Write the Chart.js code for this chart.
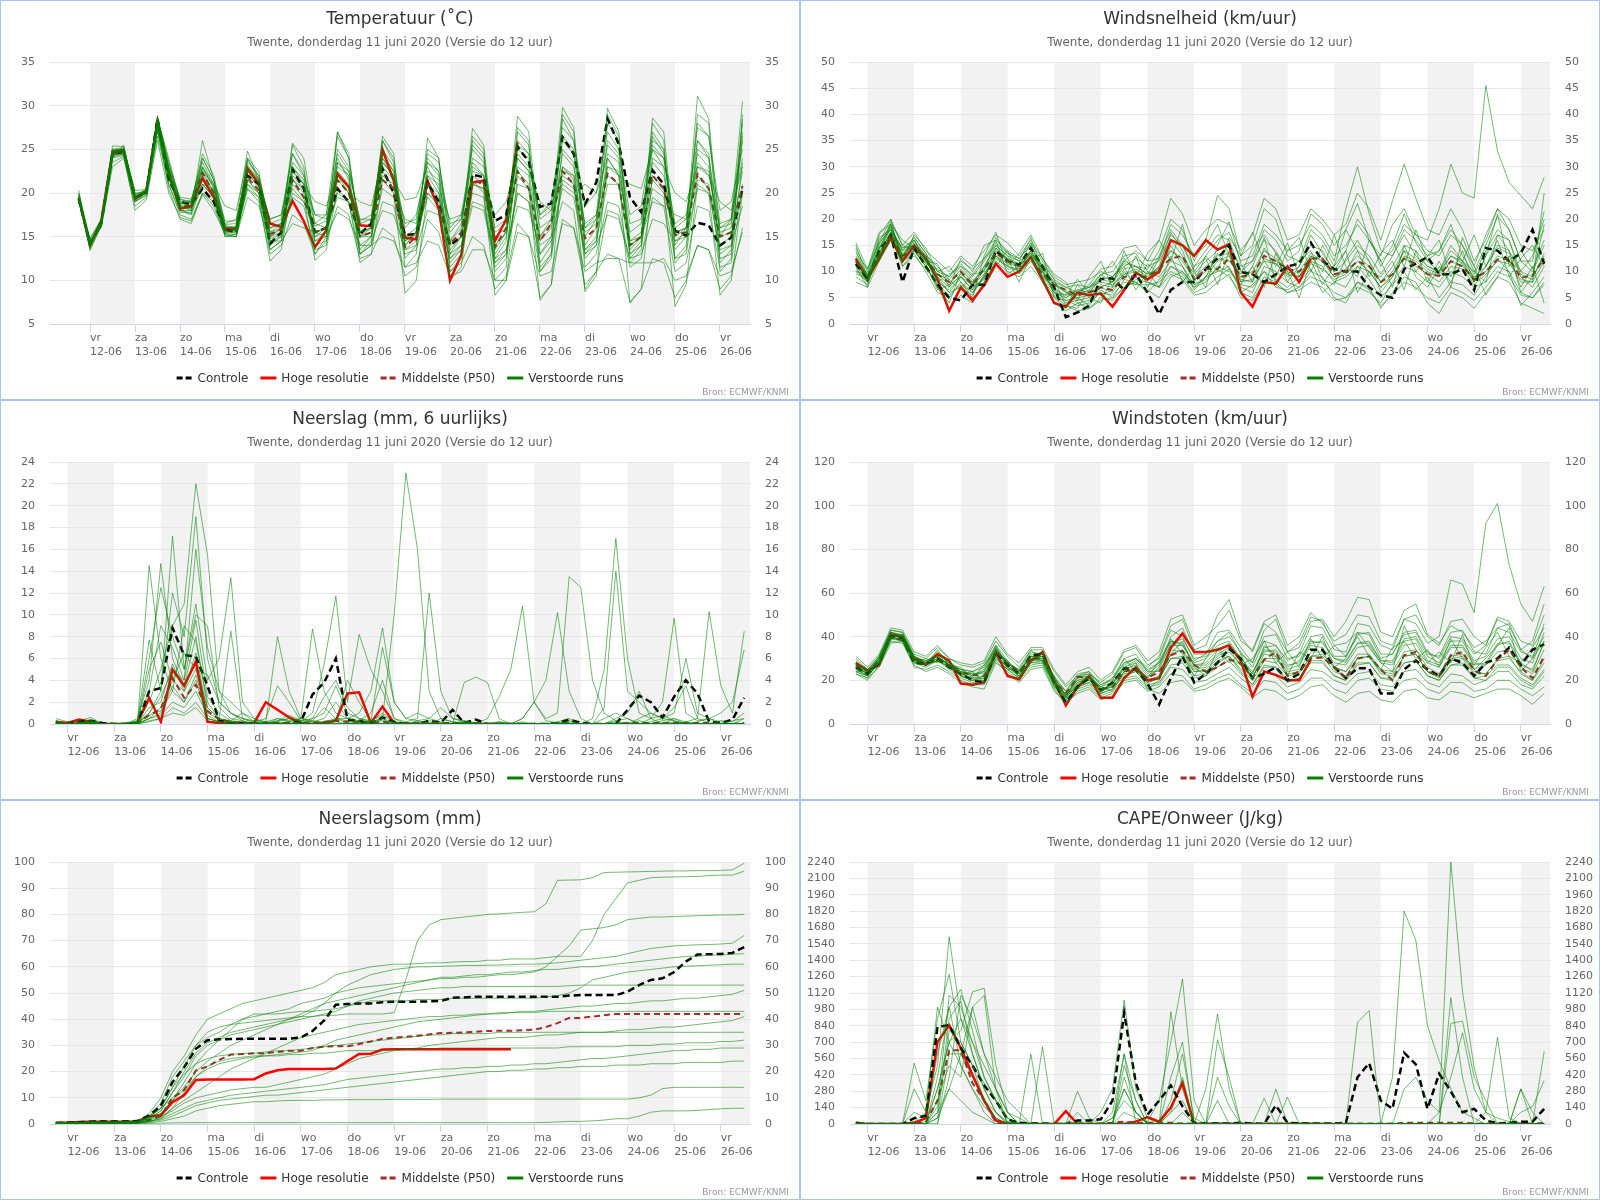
<!DOCTYPE html>
<html>
<head>
<meta charset="utf-8">
<title>Pluim Twente</title>
<script src="https://cdn.jsdelivr.net/npm/chart.js@4.4.0/dist/chart.umd.min.js"></script>
<style>
  body { margin: 0; background: #fff; }
  #grid { display: grid; grid-template-columns: 800px 800px; grid-template-rows: 400px 400px 400px; width: 1600px; height: 1200px; }
  .panel { box-sizing: border-box; width: 800px; height: 400px; border: 1px solid #a5c3f0; }
  .panel canvas { display: block; }
</style>
</head>
<body>
<div id="grid">
  <div class="panel"><canvas id="temp" width="798" height="398"></canvas></div>
  <div class="panel"><canvas id="wind" width="798" height="398"></canvas></div>
  <div class="panel"><canvas id="rain" width="798" height="398"></canvas></div>
  <div class="panel"><canvas id="gust" width="798" height="398"></canvas></div>
  <div class="panel"><canvas id="rainsum" width="798" height="398"></canvas></div>
  <div class="panel"><canvas id="cape" width="798" height="398"></canvas></div>
</div>
<script>
// time axis: days of June 2020, runs start 11-06 18 UTC, every 6 hours
var firstStep = 11.75;
var stepDays = 0.25;
var dayAbbr = ['vr', 'za', 'zo', 'ma', 'di', 'wo', 'do'];
var tickDays = [12, 13, 14, 15, 16, 17, 18, 19, 20, 21, 22, 23, 24, 25, 26];
var subtitleText = 'Twente, donderdag 11 juni 2020 (Versie do 12 uur)';
var sourceText = 'Bron: ECMWF/KNMI';

// ---------- Temperatuur ----------
var tempControl = [19.3,14.2,16.5,24.5,24.7,19.5,20.0,28.5,21.5,19.0, 18.7,20.5,19.0,15.8,15.5,22.0,21.0,14.2,15.5,22.7, 20.5,15.5,16.0,20.5,19.0,15.3,16.5,22.8,20.0,15.2, 15.3,21.2,19.0,14.0,15.0,22.1,21.8,16.8,17.5,25.3, 23.6,18.4,18.8,26.4,24.5,18.7,21.2,28.5,25.6,19.5, 17.8,22.6,21.0,15.7,15.1,16.6,16.3,14.0,14.9,20.5];
var tempHres = [19.4,14.0,16.8,24.7,24.9,19.3,20.2,28.2,22.2,18.2, 18.5,21.7,19.5,15.9,15.9,22.8,21.1,16.5,16.1,19.1, 16.8,13.8,15.7,22.2,20.7,16.3,16.2,25.0,21.4,14.9, 14.7,21.4,18.2,10.0,12.9,21.2,21.4,14.5,17.0,25.8];
var tempP50 = [19.4,14.2,16.6,24.5,24.8,19.4,20.1,27.8,22.5,18.5, 18.5,22.3,20.0,15.8,15.8,21.8,20.3,15.3,15.8,21.5, 19.5,15.5,16.0,21.5,20.0,15.0,15.5,21.5,20.5,13.8, 15.0,21.0,18.5,14.2,15.5,21.5,21.0,13.8,16.0,22.5, 20.5,14.5,16.5,22.5,21.0,14.8,16.0,22.2,21.0,14.0, 15.0,22.0,20.5,15.2,15.5,22.2,20.5,15.0,15.5,20.8];
var tempMembers = [
  [19.8,13.6,16.2,25.4,25.3,19.8,20.3,28.8,23.0, 19.2,19.0,22.5,20.8, 16.0,16.2,23.5,22.0, 16.5,17.0,24.5,22.5, 16.2,16.8,23.5,22.5, 16.8,17.5,25.0,23.0, 16.0,17.5,23.5,22.0, 15.5,17.0,24.0,23.0, 16.0,17.0,26.0,24.5, 17.5,19.0,27.5,26.0, 18.5,20.0,27.0,25.0, 17.5,18.5,26.5,24.5, 16.0,17.0,27.5,26.5, 18.0,19.0,25.0],
  [19.0,14.4,16.0,23.0,24.0,18.5,19.5,26.5,21.0, 17.5,17.0,20.0,18.5, 15.2,15.0,20.5,19.0, 13.0,14.0,17.5,16.5, 13.0,14.5,18.5,17.5, 12.5,13.0,16.0,15.0, 10.5,11.5,17.0,15.5, 11.0,12.0,15.0,14.0, 9.0,10.5,16.5,15.0, 8.0,9.5,17.0,16.0, 9.5,11.0,13.0,12.5, 7.5,9.0,12.5,12.0, 8.0,10.0,14.0,13.5, 9.0,10.5,16.0],
  [20.3,14.0,16.6,24.0,25.5,19.0,20.0,27.5,22.5, 18.0,18.0,26.0,21.5, 16.5,17.0,24.8,21.5, 15.0,15.5,25.5,23.0, 14.5,15.0,27.0,24.0, 15.5,16.0,26.5,24.5, 12.5,14.0,26.3,24.0, 13.0,15.0,27.4,25.5, 13.5,15.5,28.8,27.0, 15.0,17.0,29.8,27.5, 14.0,16.0,29.7,27.0, 13.0,14.5,28.6,27.0, 14.0,16.0,31.1,28.5, 15.0,17.0,30.5],
  [19.5,13.4,16.3,24.3,24.5,19.0,19.8,27.0,21.5, 18.5,18.0,21.0,19.5, 15.0,15.3,21.0,19.5, 12.2,13.5,21.0,19.5, 12.3,13.5,20.5,19.0, 12.0,13.0,21.5,20.0, 8.5,10.0,20.0,18.5, 10.0,11.5,21.5,20.0, 8.3,10.0,22.0,20.5, 7.7,9.5,23.0,21.5, 8.7,10.5,24.0,22.0, 7.4,9.0,22.0,20.5, 7.0,9.5,21.0,20.0, 8.3,10.0,20.0],
  [19.6,14.8,17.0,25.0,25.0,20.3,20.4,28.0,23.0, 19.5,19.3,23.5,21.0, 18.5,18.0,24.0,21.5, 17.0,17.5,23.0,21.0, 19.0,18.5,22.0,20.0, 19.0,18.5,24.0,21.5, 19.2,19.5,23.0,20.5, 17.0,17.5,22.0,21.0, 17.5,19.0,24.0,22.5, 19.0,18.0,21.0,20.0, 21.0,20.0,24.0,22.0, 21.0,20.5,25.0,23.0, 20.0,19.0,23.0,22.0, 19.0,18.0,23.0],
  [19.2,14.1,16.8,24.8,24.6,19.3,20.2,28.2,22.0, 18.8,18.6,21.5,19.8, 15.6,15.5,22.5,20.5, 15.5,16.0,22.0,20.5, 15.0,16.0,24.0,21.5, 13.5,15.0,24.5,22.5, 14.0,15.5,19.5,18.0, 12.5,14.0,20.0,19.5, 11.0,12.5,21.0,20.5, 12.0,14.0,25.0,23.5, 11.5,13.0,19.0,18.5, 12.0,13.5,24.0,23.0, 12.5,14.0,26.0,24.5, 13.0,14.0,26.5],
  [19.4,14.5,16.4,24.0,24.3,19.6,19.9,27.4,20.5, 17.0,16.5,20.0,19.0, 15.4,15.2,21.0,20.0, 16.0,16.5,22.5,21.0, 17.5,17.0,22.0,20.5, 14.0,15.0,23.5,22.0, 14.5,15.5,22.5,21.5, 13.5,15.0,22.5,22.0, 14.0,15.5,23.0,22.0, 11.0,13.0,22.5,22.0, 13.0,14.5,21.0,21.0, 13.0,14.0,23.5,22.0, 15.5,16.0,23.5,22.0, 16.0,16.5,27.0],
  [19.0,14.6,16.1,23.5,24.2,18.0,19.2,26.0,20.0, 17.2,16.8,19.8,18.0, 15.3,15.0,19.5,18.5, 14.5,14.5,16.5,16.0, 15.5,15.0,17.8,17.0, 14.0,14.0,15.0,14.5, 11.5,12.0,14.5,14.0, 10.5,11.0,13.5,13.5, 10.0,10.0,15.5,15.0, 10.5,11.0,16.5,16.0, 11.0,12.0,12.5,12.5, 12.0,12.0,12.0,12.5, 10.0,10.5,14.0,13.5, 10.5,11.0,15.5],
  [19.7,13.8,16.7,24.9,25.0,19.5,20.5,28.5,24.0, 19.0,18.8,24.5,22.0, 16.3,16.0,24.0,22.5, 15.5,16.5,25.7,24.0, 16.5,17.5,27.0,24.5, 15.0,16.0,26.0,24.0, 14.0,15.5,25.0,24.0, 14.5,16.5,26.0,24.5, 12.5,14.5,27.5,26.0, 11.5,13.0,29.0,27.0, 13.5,15.0,28.0,26.0, 12.5,14.0,27.0,25.0, 13.5,15.0,29.0,28.0, 12.0,13.5,28.5],
  [19.3,14.3,16.6,24.6,24.8,19.6,20.1,27.8,22.5, 18.3,18.2,22.0,20.2, 15.8,15.7,22.5,21.0, 14.0,15.0,22.5,21.0, 14.5,15.5,21.5,20.0, 15.5,16.0,22.0,21.0, 14.5,15.5,21.0,19.5, 14.0,15.0,21.0,20.5, 14.0,15.5,22.5,21.0, 15.0,16.5,23.0,22.0, 15.5,16.5,22.0,21.0, 14.0,15.0,21.5,20.0, 15.5,16.0,22.0,20.5, 15.0,15.5,20.0],
  [19.5,14.2,16.4,24.2,25.0,19.4,20.0,28.0,22.0, 18.0,17.5,21.0,20.5, 15.5,16.0,21.5,20.0, 13.5,14.5,20.0,19.0, 15.5,16.0,19.5,19.0, 13.0,14.0,19.0,18.5, 13.0,13.5,18.0,17.5, 12.5,13.5,18.5,18.0, 12.0,13.0,20.0,19.0, 13.0,14.5,19.0,18.0, 9.0,11.0,18.0,17.5, 11.5,12.5,19.5,18.5, 11.0,12.0,18.5,18.0, 11.5,12.0,21.0],
  [19.9,14.0,17.0,25.0,25.2,20.0,20.0,28.4,23.5, 18.7,19.2,23.0,21.0, 16.4,16.5,23.0,21.5, 15.0,16.0,23.5,22.0, 13.0,15.0,25.0,23.0, 16.5,17.0,23.0,21.5, 15.0,16.0,24.5,23.5, 16.0,17.5,25.0,23.5, 13.0,15.0,25.0,24.0, 16.0,17.0,26.0,24.5, 15.0,17.0,25.5,24.0, 13.5,15.0,25.0,24.0, 16.5,17.5,26.0,24.0, 16.0,17.0,24.0],
  [19.6,14.3,16.5,24.6,24.9,19.7,20.3,28.6,22.8, 18.6,18.3,23.0,20.5, 16.2,15.8,23.8,22.0, 16.0,16.5,20.5,19.0, 16.5,16.0,26.5,24.0, 15.5,16.5,22.5,20.5, 17.0,16.5,22.0,20.0, 14.5,16.0,25.5,24.0, 15.5,16.5,24.5,23.0, 17.5,18.5,22.0,21.0, 12.5,14.0,23.0,22.5, 14.5,15.0,19.0,18.5, 17.5,17.0,24.5,23.0, 14.0,15.0,22.5],
  [19.1,13.9,16.9,24.4,24.4,19.2,20.0,27.2,21.0, 17.8,17.8,24.0,21.5, 15.0,15.0,22.0,21.0, 13.5,14.5,23.0,21.5, 14.0,14.5,23.5,22.0, 13.0,14.0,26.0,23.5, 11.5,13.0,23.5,22.5, 11.0,12.5,26.5,25.0, 10.0,11.5,27.0,25.5, 13.0,15.0,28.5,26.0, 16.0,17.5,29.0,26.5, 14.5,15.5,28.0,26.0, 12.0,13.5,25.0,24.0, 11.0,12.5,29.0],
  [19.4,14.0,16.3,24.5,24.7,19.5,20.1,28.0,22.0, 18.4,18.4,21.0,19.5, 15.7,15.6,20.5,19.5, 14.5,15.0,21.5,20.0, 15.0,15.5,20.0,19.0, 15.0,15.0,20.5,19.5, 13.5,14.5,20.0,19.0, 13.0,14.0,19.0,18.5, 12.5,13.5,18.5,18.0, 14.0,15.0,20.5,19.5, 13.0,14.0,17.5,17.0, 12.5,13.0,17.0,16.5, 14.5,15.0,20.5,20.0, 13.5,14.0,18.5],
  [20.0,14.7,16.9,24.8,25.1,19.9,20.3,28.6,23.5, 19.3,19.0,24.0,21.5, 16.8,16.8,22.8,21.0, 17.0,17.5,24.5,22.0, 17.5,17.5,24.5,22.5, 17.0,17.0,23.5,22.0, 16.5,17.0,24.0,22.5, 16.5,17.0,23.5,22.0, 15.0,16.0,25.5,24.5, 17.0,18.0,26.5,25.0, 16.0,17.0,26.0,24.5, 16.5,17.0,25.5,24.0, 15.0,16.0,28.0,26.5, 16.5,17.0,28.0],
  [19.2,14.2,16.5,24.1,24.5,19.0,19.7,27.6,21.8, 18.1,17.6,22.5,20.0, 15.5,15.4,21.5,20.0, 14.8,15.2,19.5,18.5, 13.5,14.0,22.5,21.0, 13.0,14.5,18.0,17.5, 13.5,14.0,21.0,20.0, 11.5,13.0,23.0,22.0, 12.0,13.5,20.0,19.0, 11.0,12.5,21.5,20.5, 13.5,14.5,24.5,23.5, 14.0,15.0,20.5,19.5, 12.5,13.0,21.5,21.0, 12.5,13.0,23.5],
  [19.5,14.4,16.6,24.7,25.0,19.6,20.2,28.3,22.8, 18.9,18.9,22.8,20.8, 16.1,16.0,23.2,21.5, 15.0,16.0,21.5,20.5, 15.5,16.0,23.0,22.0, 15.0,15.5,24.0,22.5, 14.5,15.5,22.0,21.0, 12.0,13.5,21.0,20.5, 11.5,13.0,24.0,22.5, 14.5,16.0,24.5,23.0, 16.5,17.5,23.0,22.0, 15.5,16.5,26.0,25.0, 14.5,15.5,23.0,22.5, 15.5,16.0,26.0]
];

// ---------- Windsnelheid ----------
var windControl = [11.5,8.5,14.0,17.0,8.0,14.5,11.0,7.5,5.0,4.5, 7.5,7.5,14.0,12.0,11.3,14.5,11.0,7.0,1.3,2.2, 3.5,8.6,8.7,6.5,9.5,6.0,1.9,6.5,8.0,8.0, 10.5,12.5,15.0,9.9,9.5,8.0,9.5,11.0,11.5,15.5, 12.0,10.5,10.0,10.0,7.0,5.5,5.0,10.5,11.5,12.8, 9.5,9.5,10.5,6.5,14.5,14.0,12.0,13.5,18.0,11.5];
var windHres = [12.5,8.5,12.5,16.5,12.0,15.0,12.5,8.5,2.5,7.0, 4.5,7.5,11.5,9.0,10.0,12.8,8.5,4.0,3.3,6.0, 5.5,5.8,3.3,6.5,9.8,8.5,10.0,16.0,15.0,13.0, 16.0,14.2,15.2,6.0,3.3,8.0,7.7,11.0,8.0,12.5];
var windP50 = [12.0,9.0,13.0,17.0,13.0,14.5,12.5,9.5,8.0,10.0, 7.5,10.5,13.5,12.0,11.0,12.5,9.5,7.5,6.5,5.5, 6.0,7.0,6.5,9.0,9.0,9.0,10.5,12.5,13.0,8.5, 10.5,10.5,12.5,9.0,9.5,13.0,12.0,10.5,10.0,12.5, 12.5,9.5,10.0,12.0,11.0,8.0,9.5,12.5,11.5,9.5, 9.2,12.0,11.0,8.5,10.0,12.3,12.5,8.8,9.3,12.5];
var windMembers = [
  [9.0,7.5,15.0,19.0,13.0,16.0,12.0,9.0,6.0,9.0, 6.5,11.0,15.0,13.0,10.0,14.0,10.0,6.0,5.0,6.5, 7.0,9.5,8.0,12.0,11.0,9.5,13.0,18.0,15.0,11.0, 14.0,17.0,16.0,10.0,12.0,18.0,16.0,12.0,14.0,21.0, 19.0,15.0,18.0,23.0,16.0,13.0,19.0,22.0,17.0,16.0, 22.0,30.5,25.0,24.0,45.5,33.0,27.0,24.5,22.0,28.0],
  [13.0,9.5,16.0,18.5,14.0,16.5,13.5,10.0,9.0,11.5, 9.0,12.0,15.5,13.5,12.5,15.0,11.0,8.0,6.0,5.0, 5.5,7.5,7.0,10.5,11.0,10.5,14.0,20.0,18.0,12.0, 16.0,24.5,22.0,13.0,15.0,22.0,20.0,13.0,12.0,18.0, 16.0,12.0,22.0,30.0,21.0,14.0,13.0,17.0,13.0,11.0, 10.0,14.0,12.0,9.0,11.0,15.0,14.0,10.0,9.0,13.0],
  [10.0,8.0,14.0,19.5,15.0,14.0,11.0,7.0,3.0,5.5, 4.0,8.0,12.0,10.0,9.0,11.0,8.0,4.0,2.5,4.0, 3.0,5.0,4.5,7.0,8.0,6.5,5.0,9.0,10.0,7.0, 9.0,10.0,11.0,6.0,5.0,9.0,8.0,6.0,7.0,10.0, 9.0,5.0,4.0,8.0,7.0,3.0,6.0,9.0,8.0,4.0, 2.0,6.0,5.0,3.0,6.0,9.0,8.0,4.0,3.0,2.0],
  [14.5,10.0,17.0,20.0,15.0,17.5,14.0,12.0,10.0,13.0, 11.0,14.0,17.0,15.5,13.0,16.0,12.5,9.0,7.5,8.0, 8.5,10.0,9.0,12.0,14.0,12.0,16.0,24.0,21.0,15.0, 18.0,20.0,19.0,14.0,17.0,24.0,22.0,16.0,17.0,22.0, 20.0,17.0,19.0,25.0,22.0,16.0,23.5,30.5,24.0,18.0, 17.0,22.0,18.0,12.0,16.0,22.0,20.0,15.0,14.0,18.0],
  [8.0,7.0,12.0,16.0,12.0,13.5,10.0,6.0,5.0,8.0, 6.0,9.0,13.0,11.5,11.0,13.5,10.0,6.5,4.5,3.5, 4.0,6.0,5.5,8.0,7.5,7.5,8.0,10.0,9.0,6.0, 7.0,9.0,10.5,7.0,6.0,11.0,10.0,8.0,7.0,9.0, 8.0,6.0,5.0,7.0,6.0,4.0,8.0,11.0,10.0,8.0, 7.0,10.0,9.0,7.0,8.0,11.0,10.0,6.0,5.0,8.0],
  [12.0,9.0,13.5,17.5,13.5,15.0,12.5,9.5,7.5,10.5, 8.0,11.0,14.5,12.0,11.5,13.0,9.0,7.0,5.0,6.5, 6.0,8.5,8.0,11.0,12.5,11.0,12.0,16.0,13.0,9.5, 12.0,14.0,15.0,11.0,12.0,16.0,14.0,10.0,9.0,13.0, 12.0,9.0,10.0,14.0,12.0,8.0,11.0,15.0,14.0,11.0, 10.0,13.0,12.0,8.0,13.0,17.0,16.0,9.0,7.0,11.0],
  [11.0,8.5,13.0,17.0,12.5,15.5,13.0,8.0,6.5,9.0, 7.5,9.5,13.0,11.0,10.5,14.0,11.0,7.5,6.0,5.5, 6.5,9.5,10.0,13.0,13.5,10.0,9.0,12.0,11.0,7.5, 9.0,12.0,13.0,8.0,8.5,12.0,11.5,9.5,11.0,15.0, 14.0,10.0,12.0,15.0,13.0,9.5,13.0,18.0,16.0,13.0, 14.0,18.0,15.0,11.0,17.0,22.0,18.0,12.0,12.0,21.5],
  [15.0,9.0,14.5,18.0,14.0,15.0,11.5,10.5,9.0,12.0, 10.5,12.5,15.0,13.0,12.0,13.5,10.5,8.0,7.0,7.5, 7.0,8.0,7.5,9.5,10.0,8.0,7.0,11.0,9.5,7.0, 8.0,11.0,10.0,7.5,7.0,10.0,8.5,7.0,9.0,12.0, 11.0,8.0,9.0,11.0,10.0,7.0,9.0,13.0,12.0,10.0, 9.0,12.0,11.0,9.0,10.0,13.0,12.0,8.0,8.0,25.0],
  [10.5,8.0,13.0,16.5,11.0,14.0,12.0,8.5,6.0,7.0, 5.5,9.5,13.5,12.5,11.5,14.0,10.5,6.0,4.0,4.5, 5.0,7.0,6.0,9.5,10.5,9.0,11.0,14.0,12.5,9.0, 11.0,13.0,13.5,8.5,8.0,12.5,11.5,9.5,9.0,11.5, 10.5,8.5,9.5,12.0,10.0,7.0,9.5,12.5,11.0,9.5, 8.0,11.0,10.5,7.5,9.5,12.0,11.5,8.5,8.0,12.0],
  [13.5,10.5,15.5,18.0,14.5,16.0,13.0,11.0,8.5,11.0, 9.5,12.5,16.0,14.0,12.5,15.5,12.0,8.5,7.0,6.0, 7.5,10.5,11.0,14.5,15.0,12.0,12.5,17.0,15.0,10.0, 13.0,16.0,17.5,12.0,13.0,19.0,17.0,14.0,15.0,19.0, 17.0,13.0,15.0,19.0,16.0,12.0,14.0,19.0,17.0,14.0, 13.0,17.0,15.0,10.0,15.0,20.5,18.0,12.0,10.0,15.0],
  [11.5,9.0,12.5,16.0,12.0,14.0,11.0,7.5,5.5,7.5, 6.0,9.0,12.5,11.0,10.0,12.0,8.5,5.5,3.5,2.5, 3.0,4.5,5.0,7.0,8.5,8.0,7.0,9.5,8.5,5.5, 6.0,8.0,9.5,5.0,4.5,8.0,7.5,6.0,6.5,8.0, 7.0,4.5,5.0,8.0,6.5,3.5,5.5,8.0,7.0,5.0, 4.0,7.0,6.0,4.5,7.0,10.0,9.0,5.5,5.0,7.5],
  [12.5,9.5,14.5,18.5,13.0,16.5,13.5,9.0,7.0,9.5, 8.0,10.5,14.0,12.5,11.0,13.5,9.5,6.5,5.5,6.0, 7.0,8.5,9.0,11.5,11.0,9.5,10.5,14.0,12.0,8.5, 10.0,12.5,12.0,9.0,10.0,14.0,12.5,9.0,10.0,13.5, 12.0,9.0,10.5,13.0,11.0,8.0,10.0,14.0,12.5,10.5, 9.5,13.0,11.5,8.0,11.0,14.5,13.5,9.5,8.5,13.5],
  [14.0,8.5,13.0,19.0,12.0,17.0,14.5,10.0,11.0,8.0, 5.0,13.0,17.5,11.0,13.5,17.0,12.5,9.5,8.0,4.5, 9.0,12.0,7.0,14.0,9.0,13.5,16.0,12.0,19.0,10.0, 7.0,15.0,19.5,11.5,8.0,14.5,11.0,15.5,9.0,13.0, 10.0,17.0,11.0,9.0,16.0,12.0,7.0,15.0,10.0,13.0, 16.0,9.0,14.0,8.0,13.0,21.0,11.0,14.0,10.5,16.0],
  [11.0,7.0,15.5,20.0,11.0,13.0,10.5,8.0,9.5,11.0, 8.5,7.0,11.0,14.0,9.5,12.0,13.5,5.0,3.0,7.5, 5.0,4.0,9.0,11.0,6.5,10.0,7.0,13.0,8.0,11.0, 12.5,7.5,14.0,8.0,11.0,7.0,13.5,10.0,5.0,12.0, 7.5,11.0,14.0,6.0,10.0,9.0,12.0,6.5,14.0,8.0, 12.0,7.0,16.5,11.0,5.5,9.0,13.0,7.0,11.0,4.0],
  [15.5,10.5,17.5,19.0,16.0,14.5,12.0,11.5,7.0,12.5, 10.0,15.0,16.0,9.5,11.0,15.5,9.0,6.0,5.5,8.5, 6.0,9.0,12.0,8.5,13.0,7.0,11.0,17.5,14.0,8.0, 13.0,10.0,16.5,13.0,17.5,12.0,9.0,14.0,16.5,10.0, 15.0,11.0,18.0,14.0,9.0,13.5,16.0,11.0,18.0,12.0, 10.0,15.0,12.0,17.0,11.0,16.0,9.0,12.5,15.0,11.0],
  [9.5,9.0,13.5,17.5,14.5,15.0,13.0,7.0,4.0,10.0, 7.0,8.5,14.5,12.5,8.0,13.0,11.5,8.5,3.5,3.0, 6.5,5.5,6.5,10.0,7.5,11.5,9.5,15.0,11.0,6.5, 9.0,13.5,10.5,7.5,11.0,16.5,8.0,10.5,12.0,14.0, 8.5,7.5,12.5,16.0,12.0,6.0,9.0,14.0,9.0,7.0, 11.0,8.0,12.0,10.0,8.0,17.0,14.0,6.0,9.0,19.0],
  [12.0,8.0,16.5,18.0,12.5,16.0,12.0,9.5,8.5,6.5, 9.5,10.0,16.5,13.5,12.0,16.5,10.0,7.5,6.5,4.0, 4.5,7.0,8.0,12.5,10.0,8.5,12.5,19.0,17.0,13.0, 15.0,19.0,13.0,9.5,14.5,17.0,13.5,8.0,11.0,17.0, 13.5,10.0,14.0,20.0,17.0,11.0,15.0,21.0,15.5,12.0, 14.0,19.0,13.0,9.5,14.0,18.0,16.0,10.0,13.0,20.0],
  [10.0,9.5,12.0,17.0,13.0,14.0,11.5,6.5,7.5,9.0, 6.5,9.0,13.0,10.5,10.5,12.5,8.0,5.0,4.5,5.0, 3.5,6.5,5.0,8.5,8.0,6.0,8.5,11.0,10.0,7.5, 8.5,10.5,9.0,6.0,7.5,10.0,7.0,6.5,8.0,10.5, 6.0,8.0,7.0,11.0,8.5,5.0,7.5,10.0,6.5,9.0, 5.0,8.0,7.5,5.5,9.0,12.5,10.0,3.5,6.0,9.0]
];

// ---------- Neerslag (6 uurlijks) ----------
var rainControl = [0.1,0,0.2,0.3,0.1,0,0,0.1,3.0,3.3, 8.8,6.3,6.2,3.5,0.3,0.1,0.1,0,0,0, 0.1,0.2,2.7,3.8,6.0,0.4,0.3,0,0.6,0.2, 0,0,0.3,0.1,1.3,0.1,0.4,0,0,0, 0,0,0,0.1,0.4,0.1,0,0,0,1.3, 2.6,2.0,0.6,2.5,4.0,2.8,0.2,0.1,0.4,2.4];
var rainHres = [0.2,0.1,0.4,0.2,0,0,0,0.1,2.4,0.2, 5.0,3.5,5.7,0.2,0.1,0,0,0.1,2.0,1.3, 0.6,0.1,0,0.1,0.3,2.8,2.9,0.1,1.6,0.1, 0,0,0,0,0,0,0,0,0,0];
var rainP50 = [0.1,0,0.1,0.1,0,0,0,0.1,0.8,1.4, 4.2,2.4,3.6,1.2,0.4,0.2,0.1,0.1,0.1,0.1, 0.1,0.1,0.1,0.2,0.3,0.2,0.2,0.1,0.2,0.1, 0.1,0.1,0.1,0.1,0.1,0.1,0.1,0,0,0, 0,0,0,0.1,0.1,0,0,0,0,0.1, 0.1,0.1,0.1,0.1,0.1,0.1,0.1,0,0,0.1];
var rainMembers = [
  [0.2,0,0.1,0.3,0,0,0,0.2,2.0,5.0, 9.0,11.0,22.0,15.5,3.0,1.0,0.5,0.1,0,0.2, 0.5,0.1,0.3,1.5,0.5,0.1,0,0.2,0.4,0, 0,0.2,0.1,0,0,0.3,0.1,0,0,0, 0.2,0,0,0.1,0.3,0,0,0,0.5,1.0, 3.0,0.5,0,0.2,0.1,0,0,0.3,0.2,1.0],
  [0.1,0,0.2,0.1,0,0,0.1,0.3,7.7,3.0, 17.2,5.0,11.0,4.0,6.0,13.4,2.0,0.5,0.2,0.1, 0.2,0.5,0.2,0.1,0.3,4.0,2.0,0.3,1.0,0.2, 0.1,0,0.3,0.1,0,0,0,0,0.2,0, 0.5,2.0,0.3,0.1,0,0,0,0,0.2,0, 0.3,0,0.1,0,0.2,0.5,0.1,0,0.3,0.5],
  [0.5,0.2,0.3,0.6,0,0,0,0.1,14.5,6.0, 3.0,9.0,7.5,2.0,0.5,0.3,1.0,0.2,0.5,3.5, 2.0,0.3,0.2,0.5,2.0,0.5,0.2,0.1,0.3,0, 0,0,0,0.5,0.2,0,0,0,0,0, 0,0,0,0,0,0,0,0,0,0, 0,0.2,0.5,0.3,0,0,0,0,0,0],
  [0,0,0.1,0.2,0,0,0,0.5,4.0,14.7, 6.0,3.5,8.0,1.5,0.5,8.5,0.5,0.3,0.2,8.0, 3.0,0.5,0.3,0.2,0.5,0.3,0.1,0.2,0.5,0.1, 0,0,0,0,0,0.2,0,0,0,0, 0,0,0,0,0.2,0,0,0,0,0, 0,0,0,0,0,0.2,0.5,0,0,0],
  [0.1,0,0,0.1,0,0,0,0.1,0.5,1.0, 3.5,2.0,4.0,0.5,0.2,0.1,0,0,0.2,0.5, 0.3,0.5,8.7,3.0,1.0,0.5,0.3,0.2,0.5,10.0, 23.0,16.0,3.0,0.5,0.2,0.1,0,0,0,0, 0,0,0,0,0,0,0,0,0,0, 0,0,0,0,0,0,0,0,0,0],
  [0.2,0,0,0.2,0,0,0,0.1,1.0,2.5, 5.0,4.0,9.5,2.5,1.0,0.3,0.2,0,0,0.3, 0.5,0.2,1.0,5.5,11.7,2.0,8.2,5.0,3.0,0.5, 0.2,0.5,12.0,3.0,0.5,0.3,0,0,0.2,0, 0,0,0,0,0,0,0,0,0,0, 0,0,0,0.5,0,0,0,0,0,0],
  [0,0,0,0,0,0,0,0,0.5,0.8, 2.0,1.5,3.0,0.8,0.2,0,0,0,0,0, 0,0,0,0,0,0,0,0,0,0, 0,0,0,0,0,0,0,0.5,2.5,5.0, 10.8,2.0,0.5,1.0,13.5,12.5,4.0,1.0,0.3,0, 0,0,0,0,0,0,0,0,0,0],
  [0,0,0,0,0,0,0,0,0.2,0.5, 1.0,0.8,1.5,0.3,0,0,0,0,0,0, 0,0,0,0,0,0,0,0,0,0, 0,0,0,0,0,0,0,0,0,0, 0,0,0,0,0,0,0.5,5.0,17.0,6.0, 1.0,0.5,2.0,9.7,1.0,0.3,0.5,0.2,0,0.5],
  [0.3,0,0,0.1,0,0,0,0,1.5,2.0, 5.5,3.0,6.5,1.0,0.5,0.2,0,0,0,0, 0,0,0,0,0,0,0,0,0,0, 0,0,0,0,0,0,0,0,0,0, 0,0,0,0,0,0,0,1.5,14.0,3.0, 2.0,1.0,0.5,1.5,3.5,0.5,10.3,3.5,1.0,8.5],
  [0,0,0,0.1,0,0,0,0.1,0.8,1.2, 3.0,2.0,4.5,0.5,0.2,0,0,0,0,0, 0,0,0,0,0.5,0.5,1.0,3.0,8.8,2.0, 0.5,0.3,0,0,0,0,0,0,0,0, 0.5,2.0,4.0,10.2,3.0,0.5,0,0,0,0, 0,0,0,0,0,0,0,0,0,0],
  [0.1,0,0,0.3,0,0,0,0.2,5.0,7.5, 4.0,6.5,5.0,4.5,2.0,1.0,0.5,0.2,0,0.5, 0.2,0.1,0.5,2.5,4.0,1.5,0.5,0.2,7.0,2.0, 0.5,1.0,0.5,0.2,0,0,0,0,0,0, 0,0,0,0.2,0.5,0,0,0,0.3,0.5, 0,0,0.3,0.5,0.2,0,0,0,0,0],
  [0,0,0,0,0,0,0,0,0.3,0.5, 1.5,1.0,2.0,0.5,0.2,0.1,0,0,0,0, 0,0,0,0,0.2,0,0,0,0,0, 0,0,0,0,0,3.8,4.3,3.8,0.5,0, 0,0,0,0,0,0,0,0,0,0, 0,0,0,0,0,0,0,0,0,0],
  [0.2,0,0,0.4,0,0,0,0.3,3.0,9.0, 7.0,4.0,16.0,7.0,3.0,2.0,1.0,0.5,0,0.3, 0.8,0.3,0.5,1.0,3.5,1.0,0.5,0.3,0.8,0.2, 0,0.3,0.5,1.5,0.5,0.2,0,0,0,0, 0,0,0,0,0,0,0,0.5,1.0,0.5, 0,0.5,0.8,0.3,0,0,0,0,0,0],
  [0,0,0,0.1,0,0,0,0.1,1.0,3.0, 12.0,8.0,19.0,6.0,2.0,1.0,0.3,0,0,0, 0,0,0,0,0,0,0.3,1.0,4.0,0.5, 0,0,0,0,0,0,0,0,0,0, 0,0,0,0,0,0,0,0,0,0, 0,0,0,0,0,0,0,0,0,0],
  [0.3,0,0,0.2,0,0,0,0.2,6.0,12.5, 8.0,5.0,10.0,9.0,1.5,0.5,0.3,0,0,0, 0,0,0,0,0,0,0,0,0,0, 0,0,0,0,0,0,0,0,0,0, 0,0,0,0,0,0,0,0,0,0, 0,0,0,0,0,0,0,0,0,0],
  [0,0,0,0,0,0,0,0,0.5,1.5, 4.0,3.0,5.0,1.5,0.5,0.2,0,0,0,0, 0,0,0,0,0,0,0,0,0,0, 0,0,0,0,0,0,0,0,0,0, 0,0,0,0,0,0,0,0,0,0, 0.5,1.0,0.5,1.0,6.0,1.0,0.5,1.0,2.0,6.8]
];

// ---------- Windstoten ----------
var gustControl = [26,23,28,40,39,28,27.5,30,26,23, 20,19,33,27,23,31.5,32,19,10,17, 21,15.5,19,25.5,25,18.5,9,21,31,19, 23,28,34.5,30,21,23,26,20,23,34, 34,26,21,25.5,25.5,14,14,25,29,25, 22,30,28,22,28,30,35,27,34,36.5];
var gustHres = [28,24.5,27,41,40,30,27,32,29,18.5, 18,19,33,22,20.5,29,33,20,8.5,17, 22,12,12,21,26,20,21,35,41.5,33, 33,34,36,29,12.5,24,22.5,20,20,29.5];
var gustP50 = [27,24.5,28.5,39.5,38.5,30,28.5,29,27,23.5, 22.5,22,33,28,24,30,30,20,14,21.5, 21.5,16,17,24,25,21,24,31.5,33.5,27, 24,26,29.5,28,21,29.5,33,22,24,30, 30.5,26,21,30,31,25,20,31.5,33,24, 22,31.5,33,24.5,22,29.5,34,26,21,31];
var gustMembers = [
  [25,22,30,42,41,31,28,33,29,24, 22,25,36,29,24,33,32,21,13,20, 22,16,18,27,30,24,28,38,36,28, 30,38,40,33,26,38,36,29,32,45, 44,34,33,46,45,36,34,48,46,37, 40,66,64,51,92,101,73,55,47,63],
  [27,24,29,40,40,30,29,31,27,25, 24,27,34,28,25,30,31,22,15,23, 24,18,20,28,30,26,31,45,48,34, 36,50,57,40,33,46,42,33,35,47, 48,40,47,58,57,42,40,52,55,41, 37,45,42,35,38,44,42,33,31,40],
  [30,25,31,43,42,32,30,35,30,27, 26,28,38,31,26,34,34,24,17,22, 23,19,23,33,35,27,30,43,40,29, 32,38,42,32,28,43,48,33,37,49, 47,36,37,42,41,30,32,42,43,33, 30,40,39,32,36,48,45,34,38,55],
  [23,20,27,38,37,27,24,26,23,19, 17,16,28,24,20,26,27,16,9,15, 17,12,14,20,21,16,14,19,20,15, 16,19,21,17,12,16,15,11,13,17, 18,13,10,14,15,11,10,15,16,12, 11,15,14,12,14,16,16,13,9,14],
  [26,23,28,39,39,29,27,30,26,23, 21,21,32,26,22,29,30,19,11,17, 19,14,16,22,24,19,21,30,31,24, 25,30,33,27,22,30,30,23,24,31, 32,26,24,30,31,24,23,31,32,24, 22,30,31,24,23,29,30,24,20,28],
  [28,25,30,41,41,31,29,32,28,24, 23,24,35,27,23,31,31,20,12,19, 21,15,19,26,28,22,25,37,39,30, 31,36,38,30,24,33,34,26,29,38, 37,30,29,37,37,29,29,39,40,31, 28,38,38,29,31,39,40,30,28,42],
  [24,21,29,40,38,28,27,29,26,22, 20,20,30,25,21,27,28,17,10,16, 18,13,15,21,22,17,18,26,25,19, 20,23,26,21,17,24,22,17,19,25, 24,20,18,23,24,18,17,24,25,19, 17,23,22,18,20,24,24,18,16,22],
  [29,24,31,42,40,31,28,31,27,24, 23,23,31,26,23,29,29,19,14,20, 21,17,19,25,27,21,26,40,44,32, 32,42,43,35,28,40,41,30,31,40, 41,31,31,41,42,32,32,41,42,32, 31,42,43,33,32,44,46,34,30,46],
  [25,22,28,40,40,29,27,30,27,23, 21,22,33,27,22,30,29,18,12,18, 21,16,17,24,26,20,22,32,34,25, 26,31,34,27,21,32,31,24,25,33, 33,26,24,32,32,25,24,33,34,26, 23,31,32,25,27,33,34,26,23,34],
  [27,23,29,41,39,30,28,31,27,22, 20,22,34,27,23,32,32,20,13,21, 22,17,21,30,32,24,24,34,33,24, 24,29,31,24,18,26,26,19,21,28, 28,22,20,27,28,21,21,28,29,22, 20,27,28,21,22,27,27,21,18,25],
  [26,24,30,43,42,30,28,30,28,25, 24,26,35,28,24,31,30,21,15,21, 23,18,21,28,30,25,28,38,37,27, 27,32,35,29,23,35,36,27,28,37, 38,30,28,37,38,29,28,38,39,29, 27,36,36,28,27,36,38,28,24,38],
  [24,22,28,39,38,28,26,29,25,21, 19,19,30,25,21,28,28,18,11,17, 19,14,16,23,24,18,19,27,28,21, 22,26,29,23,18,27,26,20,21,29, 29,22,20,28,28,21,20,28,29,22, 20,27,27,21,20,26,26,20,17,24],
  [28,22,31,42,40,30,27,34,27,26, 21,27,36,25,25,34,29,22,12,22, 24,14,20,30,24,21,29,39,32,22, 30,35,30,27,30,38,28,33,26,39, 30,36,31,40,31,25,35,38,30,34, 26,39,30,27,35,42,31,28,35,44],
  [24,24,27,39,41,28,30,28,29,22, 24,19,33,29,21,28,33,17,14,16, 22,17,15,24,28,16,20,32,38,26, 22,34,28,32,20,36,31,22,33,30, 40,26,30,42,35,28,24,45,34,28, 33,28,41,25,30,36,44,24,30,38],
  [31,26,32,44,43,33,31,36,30,28, 27,29,40,32,28,35,35,25,18,24, 26,20,24,34,36,29,33,48,50,36, 40,45,52,38,34,47,50,36,40,51, 46,38,41,50,49,38,36,48,50,40, 36,47,48,40,36,49,47,38,36,50],
  [23,21,26,37,38,26,25,27,24,20, 18,18,29,23,19,25,26,15,10,14, 16,11,13,19,20,15,17,23,22,16, 18,21,23,18,14,20,19,14,16,21, 21,16,14,20,21,16,15,20,21,16, 14,19,19,15,16,20,20,16,13,17],
  [27,25,29,42,39,31,28,31,27,25, 22,24,34,28,24,31,31,20,13,19, 21,15,18,26,29,23,27,36,36,27, 28,34,37,29,23,34,33,25,27,36, 35,28,27,35,36,28,27,36,37,28, 26,35,35,27,28,37,37,27,25,37],
  [26,22,28,40,38,29,27,29,26,22, 20,21,31,26,22,28,29,18,12,18, 20,15,17,24,25,19,21,30,30,22, 23,28,31,25,20,29,28,22,23,31, 31,24,22,30,31,23,22,31,32,24, 21,29,30,23,23,30,31,23,20,30]
];

// ---------- Neerslagsom ----------
var sumControl = [0.4,0.5,0.7,0.9,1.0,1.0,1.0,1.1,3.2,7.0, 16.0,21.7,28.7,32.0,32.3,32.4,32.5,32.5,32.5,32.5, 32.6,33.0,35.5,39.5,45.5,45.8,46.0,46.0,46.5,46.7, 46.7,46.7,46.8,47.0,48.2,48.3,48.6,48.6,48.6,48.6, 48.6,48.6,48.6,48.6,49.0,49.2,49.2,49.2,49.2,50.5, 53.0,55.0,55.6,58.0,62.0,64.7,64.8,64.9,65.3,67.5];
var sumHres = [0.5,0.6,0.8,0.9,0.9,0.9,0.9,1.0,3.0,3.3, 8.3,11.0,16.8,17.0,17.0,17.0,17.0,17.1,19.3,20.5, 21.0,21.0,21.0,21.0,21.2,24.0,26.7,26.8,28.4,28.5, 28.5,28.5,28.5,28.5,28.5,28.5,28.5,28.5,28.5,28.5];
var sumP50 = [0.3,0.3,0.4,0.5,0.5,0.5,0.5,0.6,1.5,3.0, 10.0,13.0,20.4,22.0,24.5,26.5,26.7,27.0,27.0,27.5, 28.0,28.0,29.0,29.5,29.7,29.7,30.5,31.5,32.5,33.0, 33.3,33.7,34.2,34.7,34.8,35.0,35.2,35.5,35.6,35.6, 35.8,36.0,37.0,38.5,40.5,40.5,41.0,41.5,42.0,42.0, 42.0,42.0,42.0,42.0,42.0,42.0,42.0,42.0,42.0,42.0];
var sumMembers = [
  [0.5,0.6,0.7,0.8,0.8,0.8,0.9,1.0,3.0,6.0, 14.0,22.0,30.0,35.0,37.0,38.0,38.5,39.0,39.5,40.0, 40.5,41.0,41.0,41.5,41.5,42.0,42.0,42.0,42.0,42.5, 55.0,70.0,76.0,78.0,78.5,79.0,79.5,80.0,80.2,80.5, 80.8,81.0,84.0,93.0,93.1,93.2,94.0,96.0,96.1,96.2, 96.3,96.4,96.5,96.6,96.6,96.7,96.7,96.8,97.0,99.5],
  [0.5,0.6,0.7,0.8,0.8,0.9,1.0,1.2,4.0,10.0, 20.0,26.0,34.0,40.0,42.0,44.0,46.0,47.0,48.0,49.0, 50.0,51.0,52.0,54.0,57.0,58.0,59.0,60.0,60.5,61.0, 61.0,61.2,61.5,61.5,61.8,62.0,62.0,62.5,62.5,63.0, 63.0,63.0,63.5,64.0,64.0,64.0,70.0,80.0,86.0,92.0, 93.0,94.0,94.2,94.3,94.4,94.5,94.8,95.0,95.0,96.5],
  [0.4,0.5,0.6,0.7,0.7,0.8,0.8,0.9,3.0,8.0, 18.0,24.0,30.0,33.0,35.0,38.0,40.0,41.0,42.0,43.0, 44.0,46.0,47.0,48.0,50.0,51.0,52.0,52.5,53.0,53.5, 54.0,54.5,55.0,55.5,55.5,56.0,56.0,56.5,57.0,57.0, 57.5,58.0,60.0,64.0,68.0,74.0,74.5,75.0,76.0,78.0, 78.5,79.0,79.0,79.2,79.3,79.5,79.6,79.8,79.8,80.0],
  [0.5,0.6,0.6,0.7,0.7,0.7,0.8,0.8,2.0,5.0, 12.0,20.0,27.0,31.0,33.0,35.0,36.0,37.0,38.0,39.0, 40.0,41.0,43.0,46.0,50.0,53.0,55.0,57.0,58.0,59.0, 59.5,60.0,60.0,60.2,60.3,60.5,60.5,60.6,60.7,60.8, 61.0,61.0,61.2,61.5,62.0,62.5,63.0,63.5,64.0,65.0, 66.0,67.0,67.5,68.0,68.2,68.4,68.5,68.7,69.0,72.0],
  [0.4,0.4,0.5,0.6,0.6,0.6,0.7,0.8,2.5,6.0, 10.0,14.0,20.0,24.0,27.0,30.0,32.0,34.0,36.0,38.0, 40.0,42.0,44.0,46.0,47.0,48.0,49.0,50.0,51.0,52.0, 53.0,54.0,55.0,56.0,56.0,56.5,57.0,57.0,57.5,58.0, 58.0,58.5,59.0,59.0,59.5,60.0,60.0,60.5,61.0,61.5, 62.0,62.5,63.0,63.5,64.0,64.0,64.5,64.5,64.8,65.0],
  [0.3,0.3,0.4,0.5,0.5,0.5,0.5,0.6,2.0,4.0, 9.0,16.0,23.0,28.0,32.0,36.0,40.0,42.0,42.0,42.0, 42.5,43.0,43.0,43.5,44.0,45.0,46.0,47.0,47.0,47.0, 47.0,47.5,47.5,47.5,48.0,48.0,48.0,48.0,48.0,48.0, 48.0,48.0,48.5,49.0,50.0,52.0,55.0,56.0,57.0,58.0, 58.5,59.0,59.5,60.0,60.2,60.4,60.6,60.8,61.0,61.0],
  [0.3,0.3,0.4,0.4,0.4,0.4,0.5,0.5,1.0,2.0, 6.0,9.0,12.0,15.0,18.0,21.0,23.0,25.0,27.0,29.0, 31.0,33.0,34.0,35.0,36.0,37.0,38.0,38.5,39.0,39.5, 40.0,40.5,41.0,41.0,41.5,41.5,42.0,42.0,42.5,42.5, 43.0,43.0,43.5,44.0,44.5,45.0,45.0,45.5,46.0,46.0, 46.5,47.0,47.0,47.5,48.0,48.0,48.5,49.0,49.5,51.0],
  [0.2,0.2,0.3,0.3,0.3,0.3,0.3,0.4,1.5,3.0, 5.0,8.0,10.0,11.0,12.0,13.0,13.5,14.0,14.0,15.0, 16.0,17.0,18.0,19.0,21.0,23.0,25.0,26.0,27.0,28.0, 28.5,29.0,30.0,30.5,31.0,31.5,32.0,32.5,33.0,33.0, 33.0,33.5,34.0,34.0,34.5,35.0,35.0,35.0,35.5,36.0, 36.0,36.5,37.0,37.0,37.5,38.0,38.5,39.0,39.5,41.0],
  [0.3,0.3,0.3,0.4,0.4,0.4,0.4,0.5,1.0,2.5, 6.0,12.0,18.0,22.0,24.0,25.0,25.5,26.0,26.0,26.0, 26.5,26.5,27.0,27.0,27.5,28.0,28.0,28.0,28.0,28.5, 28.5,28.5,28.5,29.0,29.0,29.0,29.0,29.0,29.0,29.0, 29.0,29.0,29.0,29.0,29.5,29.5,29.5,29.5,29.5,30.0, 30.0,30.0,30.5,30.5,31.0,31.0,31.0,31.5,31.5,32.0],
  [0.2,0.2,0.2,0.3,0.3,0.3,0.3,0.3,0.8,1.5, 3.0,5.0,7.0,8.0,9.0,9.5,10.0,10.5,11.0,11.0, 11.5,12.0,12.5,13.0,13.5,14.0,14.5,15.0,15.5,16.0, 16.5,17.0,17.5,18.0,18.5,19.0,19.5,20.0,20.0,20.5, 20.5,21.0,21.0,21.5,21.5,22.0,22.0,22.0,22.5,22.5, 22.5,23.0,23.0,23.0,23.5,23.5,23.5,23.5,24.0,24.0],
  [0.2,0.2,0.2,0.2,0.2,0.2,0.3,0.3,0.5,1.0, 2.0,3.0,5.0,6.0,7.0,7.5,8.0,8.5,8.5,8.8, 9.0,9.0,9.0,9.2,9.2,9.3,9.3,9.3,9.3,9.4, 9.4,9.4,9.4,9.5,9.5,9.5,9.5,9.5,9.5,9.5, 9.5,9.5,9.5,9.5,9.5,9.5,9.5,9.5,9.5,9.5, 10.0,11.0,13.5,14.0,14.0,14.0,14.0,14.0,14.0,14.0],
  [0.1,0.1,0.1,0.1,0.1,0.1,0.1,0.1,0.2,0.3, 0.4,0.5,0.5,0.5,0.5,0.5,0.5,0.5,0.5,0.5, 0.5,0.5,0.5,0.5,0.5,0.5,0.5,0.5,0.5,0.5, 0.5,0.5,0.5,0.5,0.5,0.5,0.5,0.5,0.5,0.5, 0.5,0.5,0.6,0.8,1.0,1.0,1.2,1.5,2.0,2.0, 3.0,4.5,5.0,5.0,5.0,5.2,5.5,5.8,6.0,6.0],
  [0.4,0.4,0.5,0.6,0.6,0.6,0.7,0.7,2.0,5.0, 12.0,18.0,26.0,30.0,32.0,34.0,35.0,36.0,37.0,38.0, 39.0,40.0,41.0,42.0,43.0,45.0,47.0,48.0,49.0,50.0, 50.5,51.0,51.5,52.0,52.0,52.5,52.5,52.5,52.5,52.5, 52.5,52.5,52.5,52.5,52.8,53.0,53.0,53.0,53.0,53.0, 53.0,53.0,53.0,53.0,53.0,53.0,53.0,53.0,53.0,53.0],
  [0.3,0.3,0.4,0.4,0.4,0.5,0.5,0.5,1.5,4.0, 9.0,13.0,18.0,21.0,23.0,24.0,25.0,25.5,26.0,26.5, 27.0,27.5,28.0,30.0,32.0,33.0,34.0,35.0,36.0,37.0, 38.0,39.0,39.5,40.0,40.5,41.0,41.5,42.0,42.0,42.5, 42.5,42.5,43.0,43.0,43.0,43.0,43.0,43.0,43.0,43.0, 43.0,43.0,43.0,43.0,43.0,43.0,43.0,43.0,43.0,43.0],
  [0.3,0.3,0.3,0.4,0.4,0.4,0.4,0.5,2.5,6.0, 14.0,19.0,23.0,25.0,26.0,26.5,27.0,27.0,27.5,28.0, 28.0,28.5,29.0,29.5,30.0,30.5,31.0,31.5,32.0,32.5, 33.0,33.5,34.0,34.0,34.5,34.5,34.5,34.5,35.0,35.0, 35.0,35.0,35.0,35.0,35.0,35.0,35.0,35.0,35.0,35.0, 35.0,35.0,35.0,35.0,35.0,35.0,35.0,35.0,35.0,35.0],
  [0.2,0.2,0.2,0.3,0.3,0.3,0.3,0.3,1.0,2.0, 4.0,6.0,8.0,9.0,10.0,11.0,11.5,12.0,12.5,13.0, 13.5,14.0,14.5,15.0,16.0,17.0,17.5,18.0,18.5,19.0, 19.5,20.0,20.5,21.0,21.0,21.5,21.5,22.0,22.0,22.5, 22.5,23.0,23.0,23.5,24.0,24.5,25.0,25.0,25.5,26.0, 26.5,27.0,27.5,28.0,28.0,28.5,28.5,29.0,29.0,29.0]
];

// ---------- CAPE ----------
var capeControl = [5,0,0,0,0,50,70,830,845,650, 500,330,200,40,10,5,5,0,0,30, 30,40,200,950,350,80,200,330,150,10, 5,5,5,10,5,0,160,10,5,5, 5,5,10,400,520,200,130,610,510,130, 430,280,100,130,30,5,10,20,20,130];
var capeHres = [10,0,0,0,0,10,50,700,845,650, 420,200,30,5,0,0,0,0,110,0, 0,0,0,0,20,60,20,140,350,0, 0,0,0,0,0,0,0,0,0,0];
var capeP50 = [5,0,0,0,0,5,20,200,630,630, 350,200,10,5,0,0,0,0,5,5, 5,5,10,20,10,10,10,10,5,5, 5,5,5,5,5,5,5,5,5,5, 5,5,5,5,5,5,5,10,10,10, 10,10,10,5,5,5,5,5,5,10];
var capeMembers = [
  [10,0,0,0,0,20,100,500,1600,900, 600,300,100,20,0,0,0,0,0,20, 0,0,50,300,100,0,0,100,400,0, 0,0,0,0,0,0,0,0,0,0, 0,0,0,0,0,0,0,0,0,0, 0,0,0,0,0,0,0,0,0,0],
  [0,0,0,0,0,520,200,900,1280,700, 500,200,50,0,0,0,0,0,0,0, 0,0,100,600,200,0,0,960,300,0, 0,0,0,0,0,0,0,0,0,0, 0,0,0,870,970,0,0,0,0,0, 0,0,0,0,0,0,0,0,0,0],
  [0,0,0,0,0,100,50,600,1000,1150, 800,400,200,20,0,0,0,0,0,280, 50,0,0,100,50,20,200,700,1240,200, 0,0,0,0,0,0,0,0,0,0, 0,0,0,0,0,0,400,1820,1570,840, 540,300,100,50,0,0,0,0,0,0],
  [0,0,0,0,0,0,20,300,700,800, 1130,1160,500,100,0,600,0,0,0,0, 0,0,0,400,100,0,0,0,100,0, 300,940,300,0,0,0,0,0,0,0, 0,0,0,0,0,0,0,0,0,0, 100,2240,1130,480,100,50,20,0,0,0],
  [0,0,0,0,0,0,0,150,1100,1000, 700,400,200,50,0,0,660,0,0,0, 0,100,300,1060,300,50,0,200,600,50, 0,720,400,0,0,0,300,0,0,0, 0,0,0,0,0,0,0,0,0,0, 0,1080,400,0,100,740,50,0,0,620],
  [0,0,0,0,0,0,0,100,900,1050, 600,300,100,0,0,0,0,0,0,100, 0,0,0,500,200,0,0,400,700,0, 0,200,0,0,0,0,0,0,0,0, 0,0,0,0,0,0,0,0,0,0, 0,860,880,400,200,0,0,0,0,0],
  [0,0,0,0,0,0,0,50,800,700, 500,350,200,50,0,0,0,0,0,0, 0,0,50,200,100,0,0,100,200,0, 0,400,150,0,0,0,0,230,0,0, 0,0,0,0,0,0,0,300,400,200, 100,400,780,300,100,0,0,300,0,0],
  [20,0,0,0,0,0,0,0,600,600, 400,200,100,0,0,0,0,0,0,0, 0,0,0,600,0,0,0,0,0,0, 0,0,0,0,0,0,0,0,0,0, 0,0,0,0,0,0,0,0,0,0, 0,0,0,0,0,0,0,0,0,0],
  [0,0,0,0,0,0,0,400,1000,500, 300,100,0,0,0,0,0,0,0,0, 0,0,0,0,0,0,0,0,0,0, 0,0,0,0,0,0,0,0,0,0, 0,0,0,0,0,0,0,0,0,0, 0,0,0,0,0,0,0,100,150,370],
  [0,0,0,0,0,0,0,200,500,400, 1000,1100,300,0,0,0,0,0,0,0, 0,0,0,0,0,0,0,0,0,0, 0,0,0,0,0,0,0,0,0,0, 0,0,0,0,0,0,0,0,0,0, 0,0,0,0,0,0,0,0,0,0],
  [0,0,0,0,0,0,0,300,700,900, 700,500,300,100,50,0,0,0,0,0, 0,0,0,0,0,0,0,0,0,0, 0,0,0,0,0,0,0,0,0,0, 0,0,0,0,0,0,0,0,0,0, 0,0,0,0,0,0,0,0,0,0],
  [0,0,0,0,0,0,0,50,300,200, 100,50,0,0,0,0,0,0,0,0, 0,0,0,0,0,0,0,0,0,0, 0,0,0,0,0,0,0,0,0,0, 0,0,0,0,0,0,0,0,0,0, 0,0,0,0,0,0,0,0,0,0],
  [0,0,0,0,0,300,100,1000,700,500, 300,150,50,0,0,0,0,0,0,0, 0,0,0,0,0,0,0,0,0,0, 0,0,0,0,0,220,0,0,0,0, 0,0,0,0,0,0,0,0,0,0, 0,0,0,0,0,0,0,0,0,0],
  [0,0,0,0,0,0,0,0,400,1100, 900,600,300,100,0,0,0,0,0,0, 0,0,0,300,100,0,0,0,0,0, 0,0,0,0,0,0,0,0,0,0, 0,0,0,0,0,0,0,0,0,0, 0,0,0,0,0,0,0,300,100,0],
  [0,0,0,0,0,0,0,100,300,600, 1000,600,400,200,100,0,0,0,0,0, 0,0,0,0,0,0,0,0,0,0, 0,0,0,0,0,0,0,0,0,0, 0,0,0,0,0,0,0,0,0,0, 0,0,0,0,0,0,0,0,0,0]
];

Chart.defaults.font.family = '"DejaVu Sans", sans-serif';
Chart.defaults.color = '#666';

function toPoints(values) {
  return values.map(function(v, i) {
    return { x: firstStep + i * stepDays, y: v };
  });
}

function pad2(n) {
  return (n < 10 ? '0' : '') + n;
}

// grey band on every other day
var bandPlugin = {
  id: 'bands',
  beforeDraw: function(chart) {
    var ctx = chart.ctx, area = chart.chartArea, xs = chart.scales.x;
    ctx.save();
    ctx.fillStyle = '#f2f2f2';
    for (var d = 12; d <= 26; d += 2) {
      var x0 = Math.max(xs.getPixelForValue(d), area.left);
      var x1 = Math.min(xs.getPixelForValue(d + 1), area.right);
      if (x1 > x0) ctx.fillRect(x0, area.top, x1 - x0, area.bottom - area.top);
    }
    ctx.restore();
  }
};

// titles, legend and source line
var legendItems = [
  { text: 'Controle', color: '#000000', dash: [6, 3] },
  { text: 'Hoge resolutie', color: '#ff0000', dash: [] },
  { text: 'Middelste (P50)', color: '#a52a2a', dash: [6, 3] },
  { text: 'Verstoorde runs', color: '#008000', dash: [] }
];

var textPlugin = {
  id: 'texts',
  afterDraw: function(chart) {
    var ctx = chart.ctx;
    var w = chart.width;
    var title = chart.options.plugins.texts.title;
    ctx.save();
    ctx.textBaseline = 'alphabetic';
    ctx.textAlign = 'center';
    ctx.fillStyle = '#333';
    ctx.font = '17px "DejaVu Sans"';
    ctx.fillText(title, w / 2, 23);
    ctx.fillStyle = '#666';
    ctx.font = '12px "DejaVu Sans"';
    ctx.fillText(subtitleText, w / 2, 45);

    // legend
    ctx.font = '12px "DejaVu Sans"';
    var symW = 16, gap = 5, space = 12;
    var total = 0;
    legendItems.forEach(function(it) { total += symW + gap + ctx.measureText(it.text).width; });
    total += space * (legendItems.length - 1);
    var x = w / 2 - total / 2, y = 377;
    ctx.textAlign = 'left';
    ctx.textBaseline = 'middle';
    legendItems.forEach(function(it) {
      ctx.beginPath();
      ctx.setLineDash(it.dash);
      ctx.lineWidth = 3;
      ctx.strokeStyle = it.color;
      ctx.moveTo(x, y);
      ctx.lineTo(x + symW, y);
      ctx.stroke();
      ctx.setLineDash([]);
      x += symW + gap;
      ctx.fillStyle = '#333';
      ctx.fillText(it.text, x, y + 1);
      x += ctx.measureText(it.text).width + space;
    });

    ctx.textAlign = 'right';
    ctx.textBaseline = 'alphabetic';
    ctx.fillStyle = '#999';
    ctx.font = '9px "DejaVu Sans"';
    ctx.fillText(sourceText, w - 10, 394);
    ctx.restore();
  }
};

function drawPanel(id, title, xRange, yRange, control, hres, p50, members) {
  var datasets = [];
  members.forEach(function(m) {
    datasets.push({
      label: 'Verstoorde runs',
      data: toPoints(m),
      borderColor: 'rgba(0,128,0,0.55)',
      borderWidth: 1
    });
  });
  datasets.push({ label: 'Middelste (P50)', data: toPoints(p50), borderColor: '#a52a2a', borderWidth: 2, borderDash: [6, 4] });
  datasets.push({ label: 'Controle', data: toPoints(control), borderColor: '#000000', borderWidth: 2.5, borderDash: [7, 4] });
  datasets.push({ label: 'Hoge resolutie', data: toPoints(hres), borderColor: '#ff0000', borderWidth: 2.5 });

  var yTicks = {
    stepSize: yRange[2],
    padding: 15,
    color: '#666',
    font: { size: 11 },
    callback: function(v) { return String(v); }
  };

  var ctx = document.getElementById(id).getContext('2d');
  new Chart(ctx, {
    type: 'line',
    data: { datasets: datasets },
    options: {
      responsive: false,
      animation: false,
      events: [],
      layout: { padding: { top: 61, left: 0, right: 0, bottom: 0 } },
      elements: { point: { radius: 0 }, line: { tension: 0 } },
      plugins: {
        legend: { display: false },
        tooltip: { enabled: false },
        texts: { title: title }
      },
      scales: {
        x: {
          type: 'linear',
          min: xRange[0],
          max: xRange[1],
          afterBuildTicks: function(scale) {
            scale.ticks = tickDays.map(function(d) { return { value: d }; });
          },
          afterFit: function(scale) { scale.height = 75; },
          ticks: {
            autoSkip: false,
            maxRotation: 0,
            align: 'start',
            padding: 0,
            color: '#666',
            font: { size: 11, lineHeight: 1.2 },
            callback: function(v) {
              return [dayAbbr[(v - 12) % 7], pad2(v) + '-06'];
            }
          },
          grid: { drawOnChartArea: false, drawTicks: true, tickLength: 8, color: '#ccd6eb' },
          border: { display: true, color: '#ccd6eb' }
        },
        y: {
          position: 'left',
          min: yRange[0],
          max: yRange[1],
          afterFit: function(scale) { scale.width = 49; },
          ticks: yTicks,
          grid: { color: '#e6e6e6', drawTicks: false },
          border: { display: false }
        },
        y2: {
          position: 'right',
          min: yRange[0],
          max: yRange[1],
          afterFit: function(scale) { scale.width = 49; },
          ticks: yTicks,
          grid: { display: false, drawTicks: false },
          border: { display: false }
        }
      }
    },
    plugins: [bandPlugin, textPlugin]
  });
}

var tempRange = [11.111, 26.667];
var plumeRange = [11.625, 26.625];

drawPanel('temp', 'Temperatuur (\u02daC)', tempRange, [5, 35, 5], tempControl, tempHres, tempP50, tempMembers);
drawPanel('wind', 'Windsnelheid (km/uur)', plumeRange, [0, 50, 5], windControl, windHres, windP50, windMembers);
drawPanel('rain', 'Neerslag (mm, 6 uurlijks)', plumeRange, [0, 24, 2], rainControl, rainHres, rainP50, rainMembers);
drawPanel('gust', 'Windstoten (km/uur)', plumeRange, [0, 120, 20], gustControl, gustHres, gustP50, gustMembers);
drawPanel('rainsum', 'Neerslagsom (mm)', plumeRange, [0, 100, 10], sumControl, sumHres, sumP50, sumMembers);
drawPanel('cape', 'CAPE/Onweer (J/kg)', plumeRange, [0, 2240, 140], capeControl, capeHres, capeP50, capeMembers);
</script>
</body>
</html>
